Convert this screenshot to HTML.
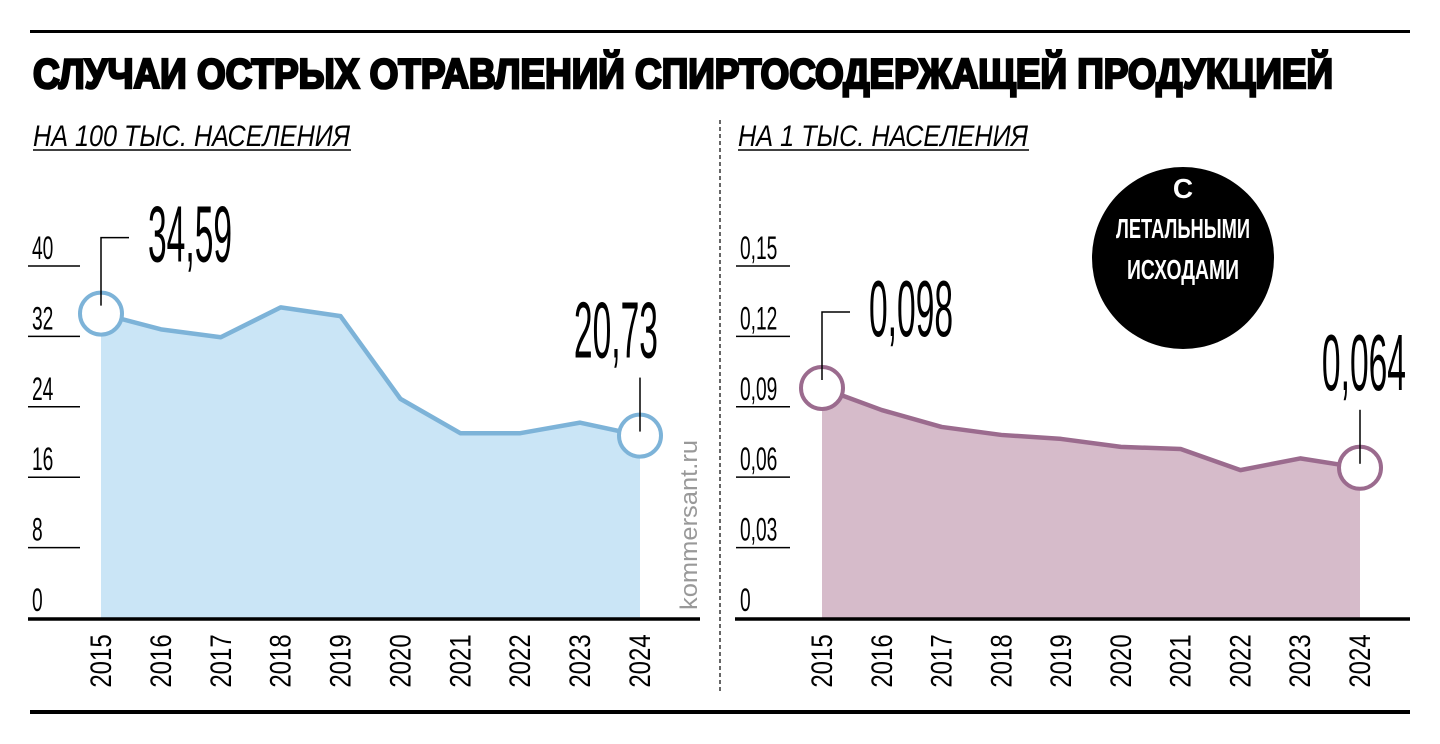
<!DOCTYPE html>
<html><head><meta charset="utf-8"><style>
html,body{margin:0;padding:0;background:#fff;}
svg{display:block;font-family:"Liberation Sans","DejaVu Sans",sans-serif;}
</style></head><body>
<svg id="chart" width="1440" height="744" viewBox="0 0 1440 744" xmlns="http://www.w3.org/2000/svg">
<rect width="1440" height="744" fill="#fff"/>
<rect x="30" y="30" width="1380" height="3" fill="#000"/>
<rect x="30" y="710" width="1380" height="4" fill="#000"/>
<text x="33" y="88" font-size="42" font-weight="900" stroke="#000" stroke-width="2.6" textLength="1300" lengthAdjust="spacingAndGlyphs">СЛУЧАИ ОСТРЫХ ОТРАВЛЕНИЙ СПИРТОСОДЕРЖАЩЕЙ ПРОДУКЦИЕЙ</text>
<text x="33" y="146" font-size="30" font-style="italic" textLength="317" lengthAdjust="spacingAndGlyphs">НА 100 ТЫС. НАСЕЛЕНИЯ</text>
<line x1="33" y1="150" x2="351" y2="150" stroke="#000" stroke-width="1.5"/>
<text x="738" y="146" font-size="30" font-style="italic" textLength="290" lengthAdjust="spacingAndGlyphs">НА 1 ТЫС. НАСЕЛЕНИЯ</text>
<line x1="738" y1="150" x2="1029" y2="150" stroke="#000" stroke-width="1.5"/>
<line x1="720" y1="120" x2="720" y2="692" stroke="#333" stroke-width="1.5" stroke-dasharray="4,3"/>
<g>
<circle cx="1183" cy="258" r="91" fill="#000"/>
<text x="1183" y="198" font-size="28" font-weight="bold" fill="#fff" text-anchor="middle">С</text>
<text x="1183" y="238" font-size="28" font-weight="bold" fill="#fff" text-anchor="middle" textLength="134" lengthAdjust="spacingAndGlyphs">ЛЕТАЛЬНЫМИ</text>
<text x="1183" y="279" font-size="28" font-weight="bold" fill="#fff" text-anchor="middle" textLength="112" lengthAdjust="spacingAndGlyphs">ИСХОДАМИ</text>
</g>
<text transform="translate(697,610) rotate(-90)" font-size="24" fill="#999" textLength="170" lengthAdjust="spacingAndGlyphs">kommersant.ru</text>
<g id="left"></g>
<g id="right"></g>
</svg>
<script>
const years = ["2015","2016","2017","2018","2019","2020","2021","2022","2023","2024"];
const leftValues = [34.59, 32.8, 31.9, 35.3, 34.3, 24.9, 21.0, 21.0, 22.2, 20.73];
const leftTicks = [0, 8, 16, 24, 32, 40];
const leftTickLabels = ["0","8","16","24","32","40"];
const leftCallouts = ["34,59","20,73"];
const rightValues = [0.098, 0.0886, 0.0814, 0.078, 0.0763, 0.0729, 0.072, 0.063, 0.068, 0.064];
const rightTicks = [0, 0.03, 0.06, 0.09, 0.12, 0.15];
const rightTickLabels = ["0","0,03","0,06","0,09","0,12","0,15"];
const rightCallouts = ["0,098","0,064"];

const NS="http://www.w3.org/2000/svg";
function mk(tag, attrs, parent){const e=document.createElementNS(NS,tag);for(const k in attrs)e.setAttribute(k,attrs[k]);parent.appendChild(e);return e;}

function panel(g, cfg){
  const x = i => cfg.x0 + i*(cfg.x1-cfg.x0)/(years.length-1);
  const y = v => cfg.base - v*cfg.scale;
  cfg.ticks.forEach((t,i)=>{
    const ty=y(t);
    if(t!==0){const l=mk('line',{x1:cfg.tx,y1:ty,x2:cfg.tx+cfg.tw,y2:ty,stroke:'#000','stroke-width':1.5},g);
      
      }
    const tl=mk('text',{x:cfg.tx+4,y:ty-7,'font-size':32},g);
    
    
    tl.textContent=cfg.tickLabels[i];
    tl.setAttribute('transform',`translate(${cfg.tx+4},0) scale(0.6,1) translate(${-(cfg.tx+4)},0)`);
  });
  let d=`M${x(0)},${cfg.base}`;
  cfg.values.forEach((v,i)=>{d+=` L${x(i)},${y(v)}`;});
  d+=` L${x(years.length-1)},${cfg.base} Z`;
  const a=mk('path',{d:d,fill:cfg.fill},g);
  
  
  const pts=cfg.values.map((v,i)=>x(i)+','+y(v)).join(' ');
  const ln=mk('polyline',{points:pts,fill:'none',stroke:cfg.stroke,'stroke-width':4.5,'stroke-linejoin':'round'},g);
  
  
  const ax=mk('line',{x1:cfg.ax0,y1:cfg.base+1,x2:cfg.ax1,y2:cfg.base+1,stroke:'#000','stroke-width':3.5},g);
  
  
  years.forEach((yr,i)=>{
    const t=mk('text',{'font-size':30,'text-anchor':'middle',transform:`translate(${x(i)+10},661) rotate(-90) scale(0.8,1)`},g);
    
    
    t.textContent=yr;
  });
  [0, years.length-1].forEach((i,k)=>{
    const cx=x(i), cy=y(cfg.values[i]);
    const c=mk('circle',{cx:cx,cy:cy,r:21,fill:'#fff',stroke:cfg.stroke,'stroke-width':4},g);
    
    
    let lp, tx, tyy;
    if(k===0){
      lp=`M${cx},${cy-8} V${cy-76} H${cx+28}`; tx=cx+47; tyy=cy-52;
    } else {
      lp=`M${cx},${cy-4} V${cy-58}`; tx=cx+cfg.endOff; tyy=cy-78;
    }
    const p=mk('path',{d:lp,fill:'none',stroke:'#000','stroke-width':1.5},g);
    
    
    const t=mk('text',{x:tx,y:tyy,'font-size':80,'text-anchor':k===0?'start':'end',transform:`translate(${tx},0) scale(0.42,1) translate(${-tx},0)`},g);
    
    
    t.textContent=cfg.callouts[k];
  });
}
panel(document.getElementById('left'),{x0:101,x1:640,base:618,scale:8.8,values:leftValues,ticks:leftTicks,tickLabels:leftTickLabels,callouts:leftCallouts,tx:28,tw:52,ax0:28,ax1:700,fill:'#cae5f6',stroke:'#7db3d8',endOff:18});
panel(document.getElementById('right'),{x0:822,x1:1360,base:618,scale:2347,values:rightValues,ticks:rightTicks,tickLabels:rightTickLabels,callouts:rightCallouts,tx:736,tw:54,ax0:735,ax1:1410,fill:'#d6bbca',stroke:'#9b6b8e',endOff:46});
</script>
</body></html>
